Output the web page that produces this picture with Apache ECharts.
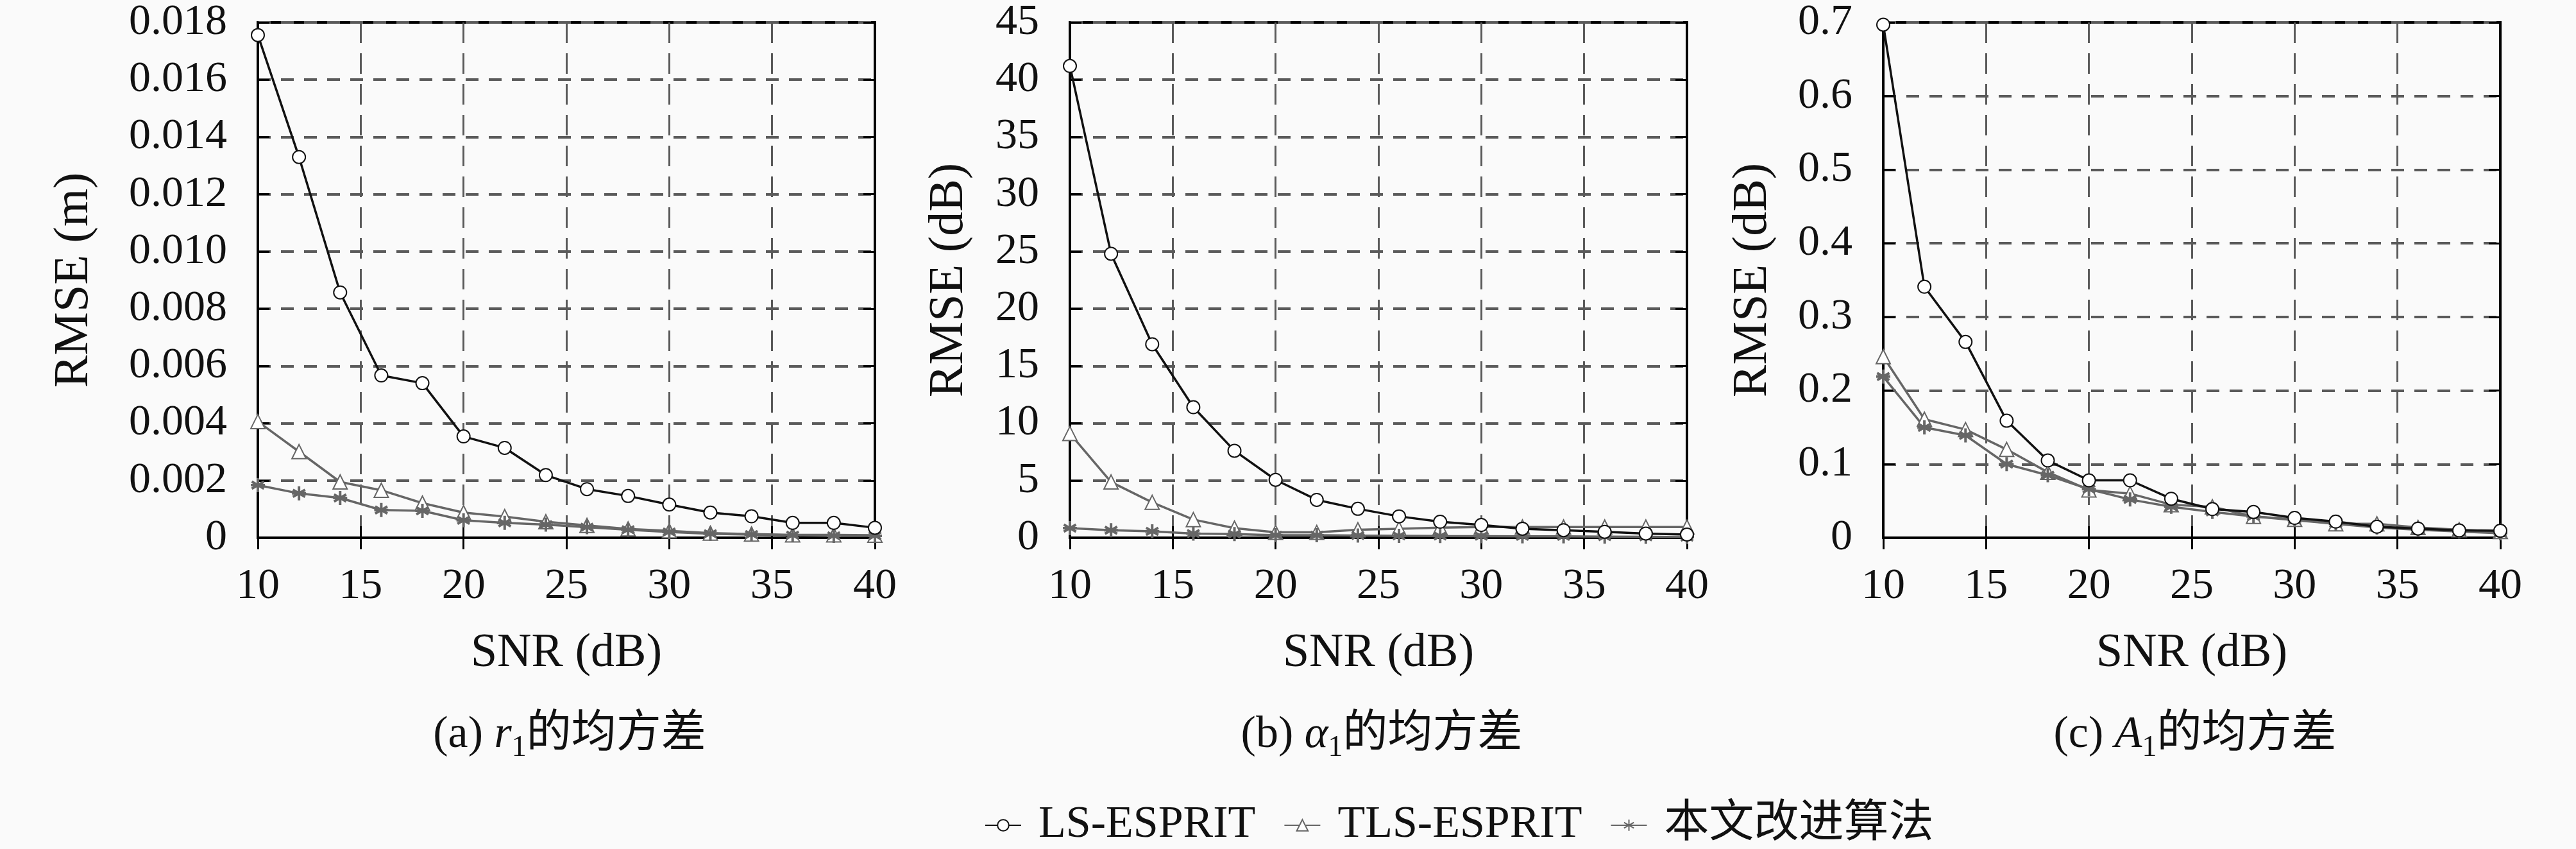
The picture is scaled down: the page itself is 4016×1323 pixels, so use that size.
<!DOCTYPE html>
<html>
<head>
<meta charset="utf-8">
<script src="https://cdn.jsdelivr.net/npm/echarts@6/dist/echarts.min.js"></script>
<style>
html, body { margin: 0; padding: 0; background: #fafafa; }
#myChart { width: 4016px; height: 1323px; }
</style>
</head>
<body>
<div id="myChart"></div>
<script>
// SNR 横坐标
var snr = [10, 12, 14, 16, 18, 20, 22, 24, 26, 28, 30, 32, 34, 36, 38, 40];
var seriesNames = ['LS-ESPRIT', 'TLS-ESPRIT', '本文改进算法'];

// (a) r1 的均方差 (m)
var rLs = [0.01756, 0.0133, 0.00857, 0.00567, 0.0054, 0.00354, 0.00314, 0.00219, 0.0017, 0.00146, 0.00116, 0.00088, 0.00075, 0.00052, 0.00052, 0.00035];
var rTls = [0.00406, 0.00301, 0.00195, 0.00166, 0.00121, 0.00088, 0.00074, 0.00056, 0.00043, 0.00031, 0.00024, 0.00016, 0.00013, 0.0001, 0.0001, 0.00009];
var rOur = [0.00184, 0.00155, 0.00139, 0.00097, 0.00094, 0.00061, 0.00052, 0.00046, 0.00037, 0.00028, 0.0002, 0.00014, 0.00011, 0.00009, 0.00007, 0.00007];

// (b) alpha1 的均方差 (dB)
var aLs = [41.2, 24.8, 16.9, 11.4, 7.6, 5.06, 3.31, 2.53, 1.87, 1.4, 1.12, 0.79, 0.66, 0.52, 0.37, 0.28];
var aTls = [9.1, 4.87, 3.09, 1.59, 0.84, 0.47, 0.47, 0.7, 0.79, 0.88, 0.94, 0.94, 0.94, 0.94, 0.94, 0.94];
var aOur = [0.84, 0.66, 0.56, 0.37, 0.32, 0.22, 0.22, 0.19, 0.17, 0.15, 0.14, 0.13, 0.12, 0.1, 0.08, 0.05];

// (c) A1 的均方差 (dB)
var cLs = [0.697, 0.341, 0.266, 0.159, 0.105, 0.078, 0.078, 0.053, 0.039, 0.035, 0.027, 0.022, 0.015, 0.0125, 0.01, 0.0095];
var cTls = [0.246, 0.161, 0.147, 0.12, 0.089, 0.065, 0.06, 0.045, 0.042, 0.029, 0.025, 0.019, 0.019, 0.014, 0.011, 0.0085];
var cOur = [0.219, 0.15, 0.139, 0.1, 0.085, 0.066, 0.052, 0.042, 0.035, 0.029, 0.024, 0.019, 0.014, 0.011, 0.0085, 0.006];

// 纵坐标刻度
var yMaxList = [0.018, 45, 0.7];
var yStepList = [0.002, 5, 0.1];
var yNames = ['RMSE (m)', 'RMSE (dB)', 'RMSE (dB)'];
var captions = ['(a) {i|r}{s|1}的均方差', '(b) {i|α}{s|1}的均方差', '(c) {i|A}{s|1}的均方差'];

var serif = "'Liberation Serif', 'DejaVu Serif', 'Noto Sans CJK SC', serif";
var gridLeft = [402, 1668, 2936];
var gridWidth = 962;
var yNameGap = [248, 150, 165];
var starPath = 'path://M10 0 L10 20 M1.34 5 L18.66 15 M1.34 15 L18.66 5 M0 10 L20 10';

var myChart = echarts.init(document.getElementById('myChart'));

function pairs(ys) {
    var out = [];
    for (var i = 0; i < snr.length; i++) {
        out.push([snr[i], ys[i]]);
    }
    return out;
}

function labelFmt(k) {
    return function (v) {
        if (v === 0) return '0';
        if (k == 0) return v.toFixed(3);
        if (k == 2) return v.toFixed(1);
        return String(v);
    };
}

var tickStyle = { inside: true, length: 18, lineStyle: { color: '#000', width: 3 } };
var lineBlack = { lineStyle: { color: '#000', width: 4 } };

var grids = [], xAxes = [], yAxes = [], titles = [], series = [];
var panelData = [[rLs, rTls, rOur], [aLs, aTls, aOur], [cLs, cTls, cOur]];

for (var k = 0; k < 3; k++) {
    grids.push({
        left: gridLeft[k],
        width: gridWidth,
        top: 35,
        bottom: 485,
        show: true,
        borderColor: '#000',
        borderWidth: 4,
        backgroundColor: 'transparent'
    });
    // 下横轴
    xAxes.push({
        gridIndex: k,
        type: 'value',
        min: 10,
        max: 40,
        interval: 5,
        name: 'SNR (dB)',
        nameLocation: 'middle',
        nameGap: 144,
        nameTextStyle: { fontFamily: serif, fontSize: 74, color: '#111' },
        axisLine: lineBlack,
        axisTick: tickStyle,
        axisLabel: { fontFamily: serif, fontSize: 68, color: '#111', margin: 42 },
        splitLine: { show: true, lineStyle: { color: '#5a5a5a', width: 3, type: [32, 16] } }
    });
    // 上横轴(只画刻度)
    xAxes.push({
        gridIndex: k,
        type: 'value',
        position: 'top',
        min: 10,
        max: 40,
        interval: 5,
        axisLine: lineBlack,
        axisTick: tickStyle,
        axisLabel: { show: false },
        splitLine: { show: false }
    });
    yAxes.push({
        gridIndex: k,
        type: 'value',
        min: 0,
        max: yMaxList[k],
        interval: yStepList[k],
        name: yNames[k],
        nameLocation: 'middle',
        nameGap: yNameGap[k],
        nameRotate: 90,
        nameTextStyle: { fontFamily: serif, fontSize: 76, color: '#111' },
        axisLine: lineBlack,
        axisTick: tickStyle,
        axisLabel: { fontFamily: serif, fontSize: 68, color: '#111', margin: 48, formatter: labelFmt(k) },
        splitLine: { show: true, lineStyle: { color: '#5a5a5a', width: 4, type: [20, 16] } }
    });
    // 右纵轴(只画刻度)
    yAxes.push({
        gridIndex: k,
        type: 'value',
        position: 'right',
        min: 0,
        max: yMaxList[k],
        interval: yStepList[k],
        axisLine: lineBlack,
        axisTick: tickStyle,
        axisLabel: { show: false },
        splitLine: { show: false }
    });
    titles.push({
        text: captions[k],
        left: gridLeft[k] + gridWidth / 2,
        top: 1098,
        textAlign: 'center',
        textStyle: {
            fontFamily: serif,
            fontSize: 70,
            fontWeight: 'normal',
            color: '#111',
            lineHeight: 86,
            rich: {
                i: { fontFamily: serif, fontStyle: 'italic', fontSize: 70, lineHeight: 86, color: '#111' },
                s: { fontFamily: serif, fontSize: 46, lineHeight: 86, verticalAlign: 'bottom', color: '#111' }
            }
        }
    });

    var d = panelData[k];
    series.push({
        name: seriesNames[0],
        type: 'line',
        xAxisIndex: 2 * k,
        yAxisIndex: 2 * k,
        data: pairs(d[0]),
        symbol: 'emptyCircle',
        symbolSize: 20,
        z: 3,
        itemStyle: { color: '#111', borderWidth: 3 },
        lineStyle: { color: '#111', width: 3.5 }
    });
    series.push({
        name: seriesNames[1],
        type: 'line',
        xAxisIndex: 2 * k,
        yAxisIndex: 2 * k,
        data: pairs(d[1]),
        symbol: 'emptyTriangle',
        symbolSize: 22,
        z: 2,
        itemStyle: { color: '#666', borderWidth: 3 },
        lineStyle: { color: '#666', width: 3.5 }
    });
    series.push({
        name: seriesNames[2],
        type: 'line',
        xAxisIndex: 2 * k,
        yAxisIndex: 2 * k,
        data: pairs(d[2]),
        symbol: starPath,
        symbolSize: 22,
        symbolKeepAspect: true,
        z: 2,
        itemStyle: { color: '#666', borderColor: '#666', borderWidth: 4 },
        lineStyle: { color: '#666', width: 3.5 }
    });
}

var option = {
    backgroundColor: '#fafafa',
    animation: false,
    title: titles,
    legend: {
        data: seriesNames,
        left: 1530,
        top: 1246,
        itemWidth: 56,
        itemHeight: 22,
        itemGap: 44,
        textStyle: { fontFamily: serif, fontSize: 70, color: '#111', padding: [0, 0, 0, 22] }
    },
    grid: grids,
    xAxis: xAxes,
    yAxis: yAxes,
    series: series
};

myChart.setOption(option);
</script>
</body>
</html>
